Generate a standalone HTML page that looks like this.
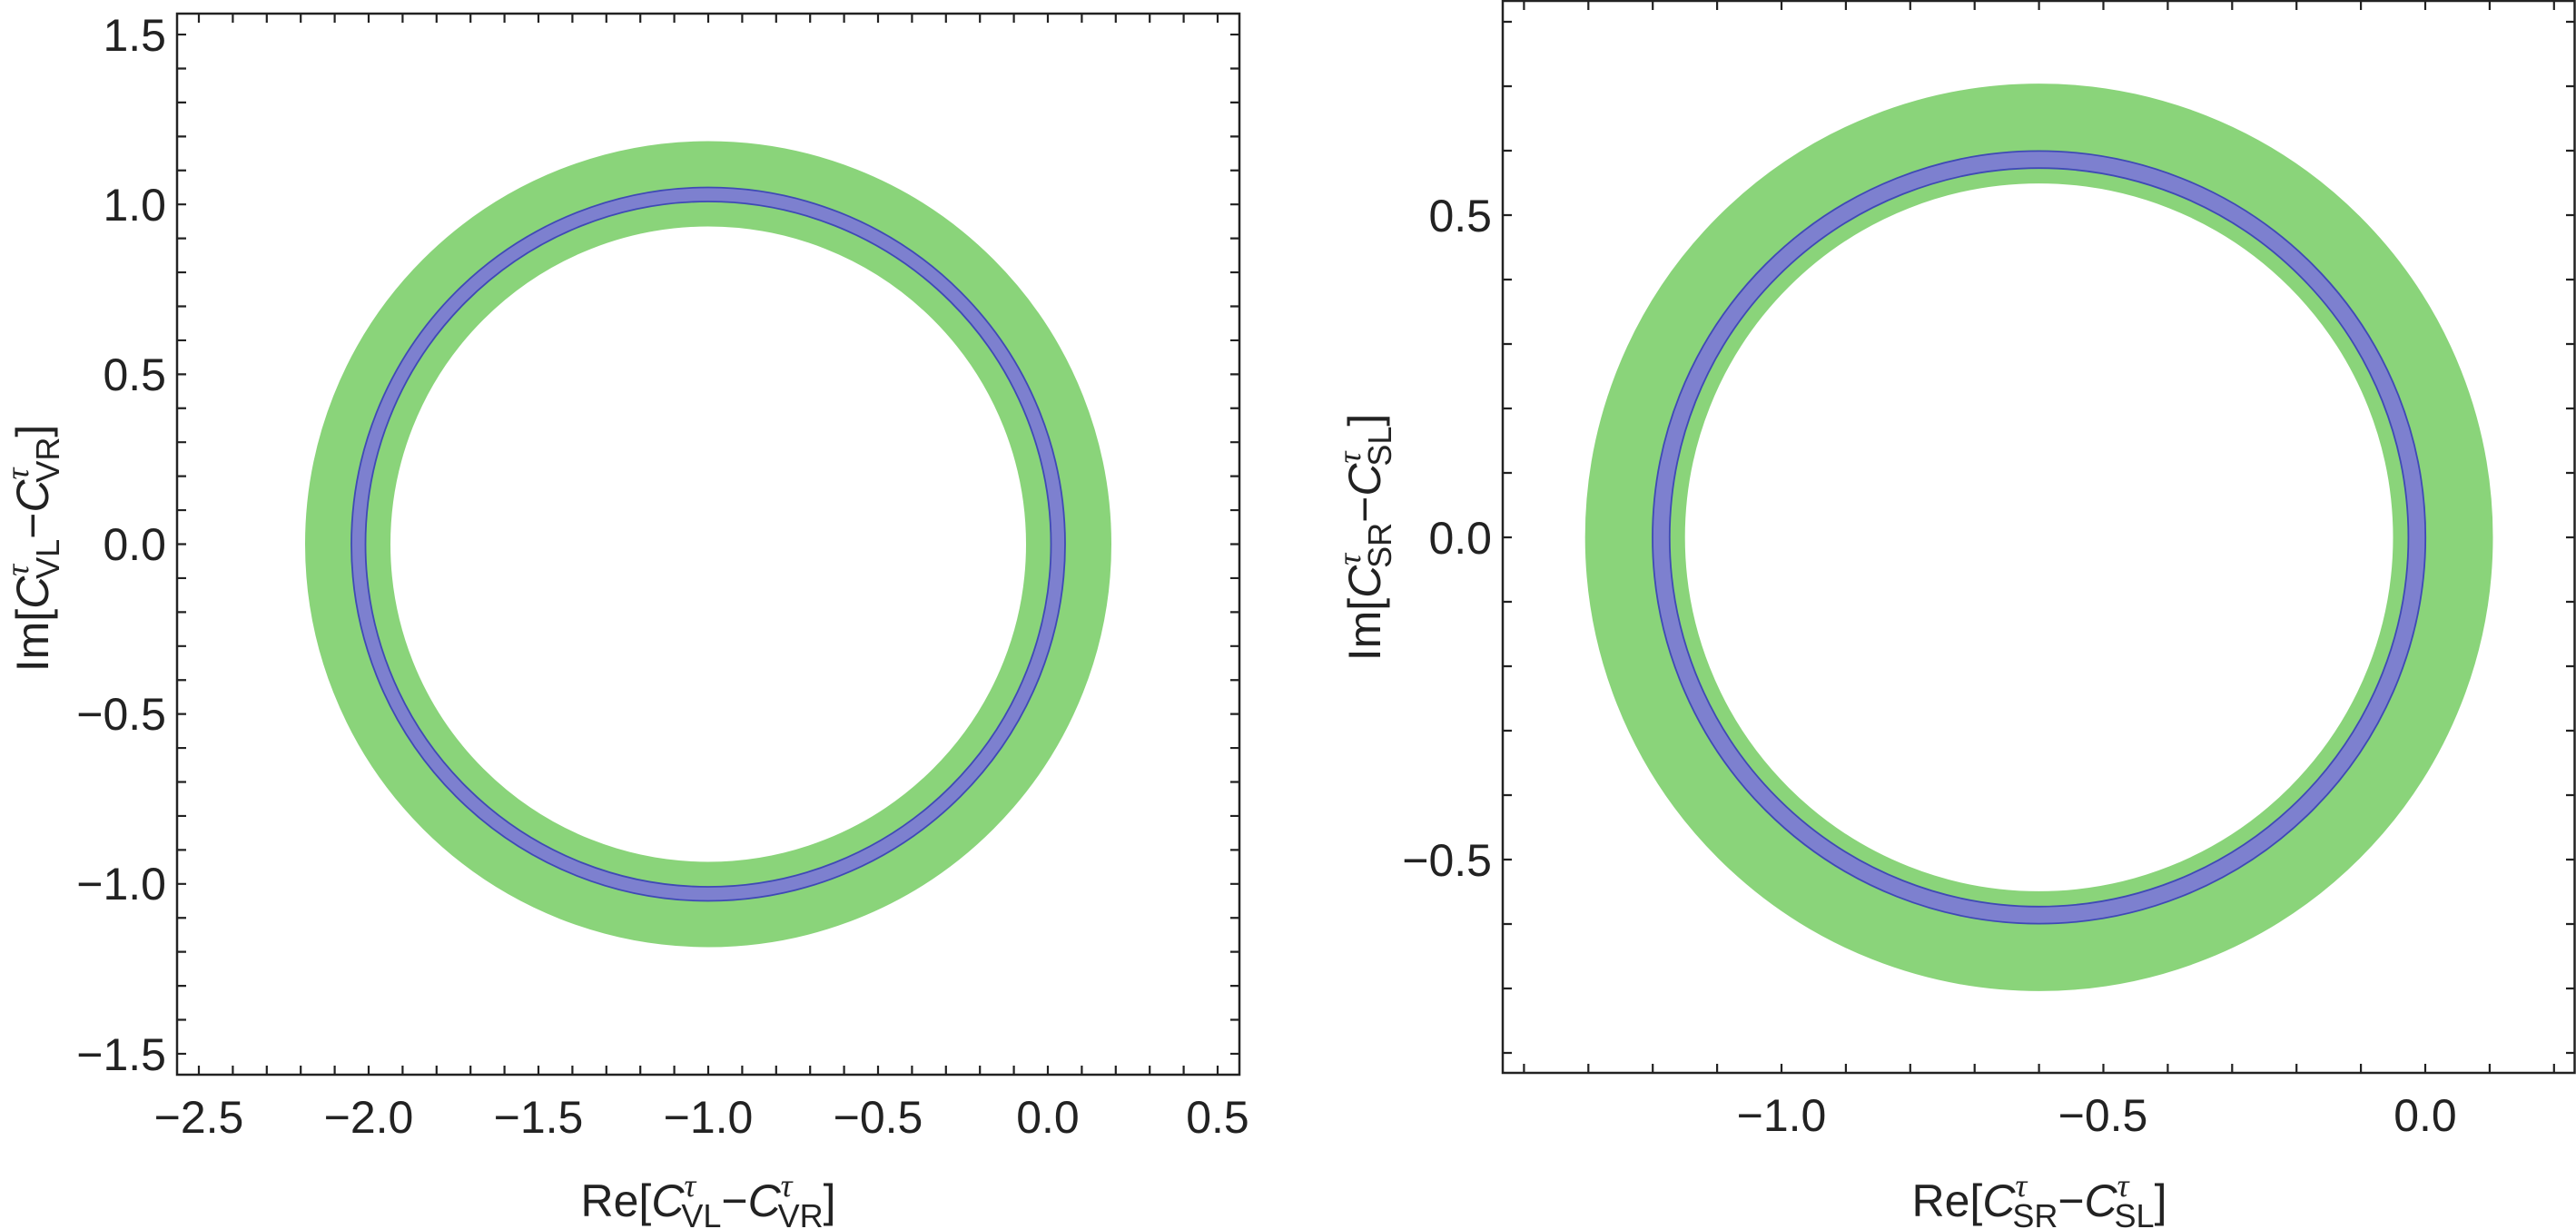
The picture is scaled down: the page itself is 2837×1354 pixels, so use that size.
<!DOCTYPE html>
<html><head><meta charset="utf-8"><style>
html,body{margin:0;padding:0;background:#fff;}
svg{display:block;font-family:"Liberation Sans",Arial,sans-serif;}
</style></head><body>
<svg id="s" width="2837" height="1354" viewBox="0 0 2837 1354" xmlns="http://www.w3.org/2000/svg">
<defs>
<clipPath id="c1"><rect x="195" y="15" width="1170" height="1169"/></clipPath>
<clipPath id="c2"><rect x="1655" y="1" width="1181" height="1181"/></clipPath>
</defs>
<g clip-path="url(#c1)">
<circle cx="780" cy="599.5" r="397" fill="none" stroke="#8ad47a" stroke-width="94"/>
<circle cx="780" cy="599.5" r="385.2" fill="none" stroke="#7d80cf" stroke-width="16.5"/>
<circle cx="780" cy="599.5" r="377.5" fill="none" stroke="#3f4ab5" stroke-width="1.8"/>
<circle cx="780" cy="599.5" r="393" fill="none" stroke="#3f4ab5" stroke-width="1.8"/>
</g>
<g clip-path="url(#c2)">
<circle cx="2245.6" cy="592" r="444.9" fill="none" stroke="#8ad47a" stroke-width="110"/>
<circle cx="2245.6" cy="592" r="416.2" fill="none" stroke="#7d80cf" stroke-width="19.9"/>
<circle cx="2245.6" cy="592" r="406.8" fill="none" stroke="#3f4ab5" stroke-width="1.8"/>
<circle cx="2245.6" cy="592" r="425.6" fill="none" stroke="#3f4ab5" stroke-width="1.8"/>
</g>
<g id="ticks" stroke="#222" stroke-width="2.2"></g>
<rect x="195" y="15" width="1170" height="1169" fill="none" stroke="#222" stroke-width="2.5"/>
<rect x="1655" y="1" width="1180.5" height="1181" fill="none" stroke="#222" stroke-width="2.5"/>
<g font-size="50" fill="#222">
<text x="219" y="1248" text-anchor="middle">−2.5</text>
<text x="406" y="1248" text-anchor="middle">−2.0</text>
<text x="593" y="1248" text-anchor="middle">−1.5</text>
<text x="780" y="1248" text-anchor="middle">−1.0</text>
<text x="967" y="1248" text-anchor="middle">−0.5</text>
<text x="1154" y="1248" text-anchor="middle">0.0</text>
<text x="1341" y="1248" text-anchor="middle">0.5</text>
<text x="183" y="56" text-anchor="end">1.5</text>
<text x="183" y="243" text-anchor="end">1.0</text>
<text x="183" y="430" text-anchor="end">0.5</text>
<text x="183" y="617" text-anchor="end">0.0</text>
<text x="183" y="804" text-anchor="end">−0.5</text>
<text x="183" y="991" text-anchor="end">−1.0</text>
<text x="183" y="1179" text-anchor="end">−1.5</text>
<text x="1962" y="1246" text-anchor="middle">−1.0</text>
<text x="2316" y="1246" text-anchor="middle">−0.5</text>
<text x="2671" y="1246" text-anchor="middle">0.0</text>
<text x="1643" y="255" text-anchor="end">0.5</text>
<text x="1643" y="610" text-anchor="end">0.0</text>
<text x="1643" y="965" text-anchor="end">−0.5</text>
<text x="780" y="1340" text-anchor="middle">Re[<tspan font-style="italic">C</tspan><tspan font-size="36" font-family="Liberation Serif" font-style="italic" dy="-22">τ</tspan><tspan font-size="36" dx="-16" dy="34">VL</tspan><tspan dy="-12">−</tspan><tspan font-style="italic">C</tspan><tspan font-size="36" font-family="Liberation Serif" font-style="italic" dy="-22">τ</tspan><tspan font-size="36" dx="-16" dy="34">VR</tspan><tspan dy="-12">]</tspan></text>
<text x="2246" y="1340" text-anchor="middle">Re[<tspan font-style="italic">C</tspan><tspan font-size="36" font-family="Liberation Serif" font-style="italic" dy="-22">τ</tspan><tspan font-size="36" dx="-16" dy="34">SR</tspan><tspan dy="-12">−</tspan><tspan font-style="italic">C</tspan><tspan font-size="36" font-family="Liberation Serif" font-style="italic" dy="-22">τ</tspan><tspan font-size="36" dx="-16" dy="34">SL</tspan><tspan dy="-12">]</tspan></text>
<text transform="translate(53,604) rotate(-90)" text-anchor="middle">Im[<tspan font-style="italic">C</tspan><tspan font-size="36" font-family="Liberation Serif" font-style="italic" dy="-22">τ</tspan><tspan font-size="36" dx="-16" dy="34">VL</tspan><tspan dy="-12">−</tspan><tspan font-style="italic">C</tspan><tspan font-size="36" font-family="Liberation Serif" font-style="italic" dy="-22">τ</tspan><tspan font-size="36" dx="-16" dy="34">VR</tspan><tspan dy="-12">]</tspan></text>
<text transform="translate(1520,592) rotate(-90)" text-anchor="middle">Im[<tspan font-style="italic">C</tspan><tspan font-size="36" font-family="Liberation Serif" font-style="italic" dy="-22">τ</tspan><tspan font-size="36" dx="-16" dy="34">SR</tspan><tspan dy="-12">−</tspan><tspan font-style="italic">C</tspan><tspan font-size="36" font-family="Liberation Serif" font-style="italic" dy="-22">τ</tspan><tspan font-size="36" dx="-16" dy="34">SL</tspan><tspan dy="-12">]</tspan></text>
</g>
</svg>
<script>
(function(){
var g=document.getElementById('ticks'),ns='http://www.w3.org/2000/svg',d='';
function L(x1,y1,x2,y2){d+='M'+x1+' '+y1+'L'+x2+' '+y2;}
function panel(L0,T,R,B,x0px,xs,y0px,ys,xmin,xmax,ymin,ymax){
 for(var i=Math.ceil(xmin*10);i<=Math.floor(xmax*10);i++){var x=x0px+i/10*xs;L(x,B,x,B-10);L(x,T,x,T+10);}
 for(var j=Math.ceil(ymin*10);j<=Math.floor(ymax*10);j++){var y=y0px-j/10*ys;L(L0,y,L0+10,y);L(R,y,R-10,y);}
}
panel(195,15,1365,1184,1154,374,599.5,374.3,-2.56,0.56,-1.56,1.56);
panel(1655,1,2836,1182,2671,709,592,710,-1.43,0.23,-0.83,0.83);
var p=document.createElementNS(ns,'path');p.setAttribute('d',d);g.appendChild(p);
})();
</script>
</body></html>
